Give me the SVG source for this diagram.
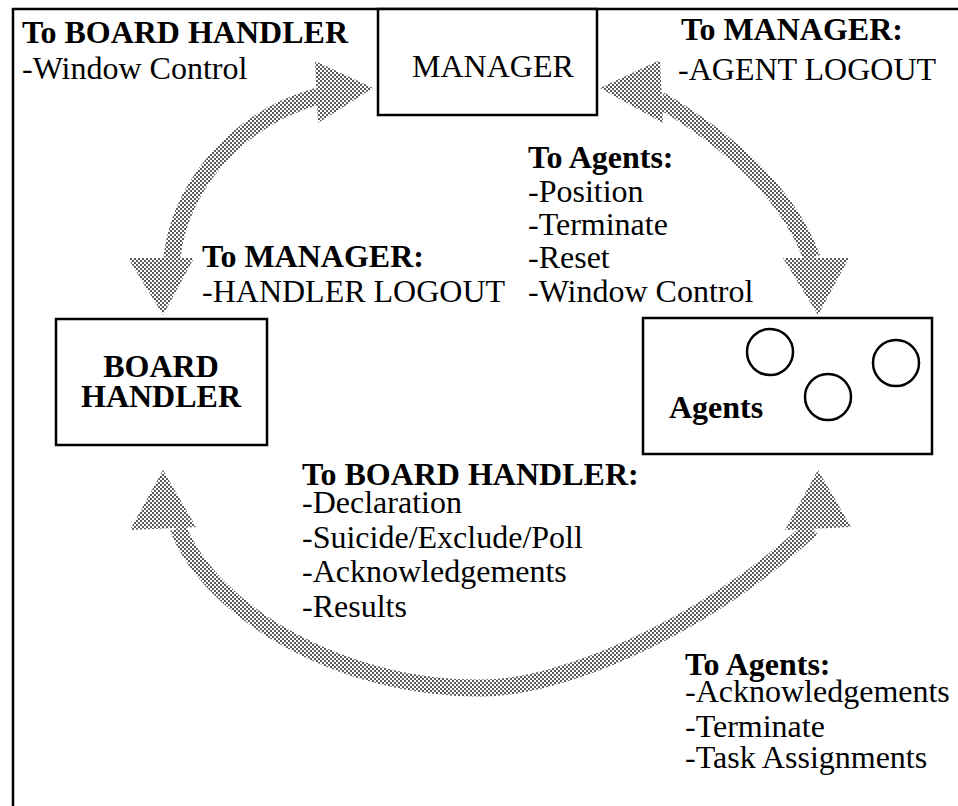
<svg xmlns="http://www.w3.org/2000/svg" width="958" height="806" viewBox="0 0 958 806">
<defs>
<pattern id="dots" width="4" height="4" patternUnits="userSpaceOnUse">
<rect width="4" height="4" fill="#ffffff"/>
<rect x="0" y="0" width="2" height="2" fill="#5a5a5a"/>
<rect x="2" y="2" width="2" height="2" fill="#5a5a5a"/>
</pattern>
</defs>
<style>
.box{fill:#fff;stroke:#000;stroke-width:2.5}
.frame{fill:none;stroke:#000;stroke-width:2.5}
.shaft{fill:none;stroke:url(#dots);stroke-width:17}
.head{fill:url(#dots)}
.t{font-family:"Liberation Serif","Times New Roman",serif;font-size:32px;fill:#000}
.b{font-weight:bold}
.agent{fill:none;stroke:#000;stroke-width:2.5}
</style>
<rect width="958" height="806" fill="#fff"/>
<path class="frame" d="M13 806 L13 9 L958 9"/>

<g id="connectors">
<g id="arrow-manager-boardhandler">
<path class="shaft" d="M172 258 C178 195 228 122 318 96"/>
<polygon class="head" points="373,88 315,61 318,123"/>
<polygon class="head" points="163,315 128,258 194,258"/>
</g>
<g id="arrow-manager-agents">
<path class="shaft" d="M660 100 C745 150 792 205 812 258"/>
<polygon class="head" points="600,88 660,60 663,123"/>
<polygon class="head" points="818,315 783,258 849,258"/>
</g>
<g id="arrow-boardhandler-agents">
<path class="shaft" d="M178 528 C210 610 340 690 483 688 C560 688 700 630 812 528"/>
<polygon class="head" points="163,470 130,530 196,527"/>
<polygon class="head" points="818,470 785,530 851,527"/>
</g>
</g>

<g id="manager">
<rect class="box" x="378" y="9" width="219" height="106"/>
<text class="t" x="412" y="77">MANAGER</text>
</g>

<g id="board-handler">
<rect class="box" x="56" y="319" width="211" height="126"/>
<text class="t b" x="161" y="377" text-anchor="middle">BOARD</text>
<text class="t b" x="161" y="407" text-anchor="middle">HANDLER</text>
</g>

<g id="agents">
<rect class="box" x="643" y="318" width="289" height="136"/>
<text class="t b" x="669" y="418">Agents</text>
<circle class="agent" cx="770" cy="352" r="23"/>
<circle class="agent" cx="828" cy="397" r="23"/>
<circle class="agent" cx="896" cy="363" r="23"/>
</g>

<g id="labels">
<text class="t b" x="22" y="43">To BOARD HANDLER</text>
<text class="t" x="22" y="79">-Window Control</text>

<text class="t b" x="681" y="40">To MANAGER:</text>
<text class="t" x="678" y="80">-AGENT LOGOUT</text>

<text class="t b" x="528" y="168">To Agents:</text>
<text class="t" x="528" y="202">-Position</text>
<text class="t" x="528" y="235">-Terminate</text>
<text class="t" x="528" y="268">-Reset</text>
<text class="t" x="528" y="302">-Window Control</text>

<text class="t b" x="202" y="267">To MANAGER:</text>
<text class="t" x="202" y="302">-HANDLER LOGOUT</text>

<text class="t b" x="302" y="485">To BOARD HANDLER:</text>
<text class="t" x="302" y="513">-Declaration</text>
<text class="t" x="302" y="548">-Suicide/Exclude/Poll</text>
<text class="t" x="302" y="582">-Acknowledgements</text>
<text class="t" x="302" y="617">-Results</text>

<text class="t b" x="685" y="675">To Agents:</text>
<text class="t" x="685" y="702">-Acknowledgements</text>
<text class="t" x="685" y="737">-Terminate</text>
<text class="t" x="685" y="768">-Task Assignments</text>
</g>
</svg>
